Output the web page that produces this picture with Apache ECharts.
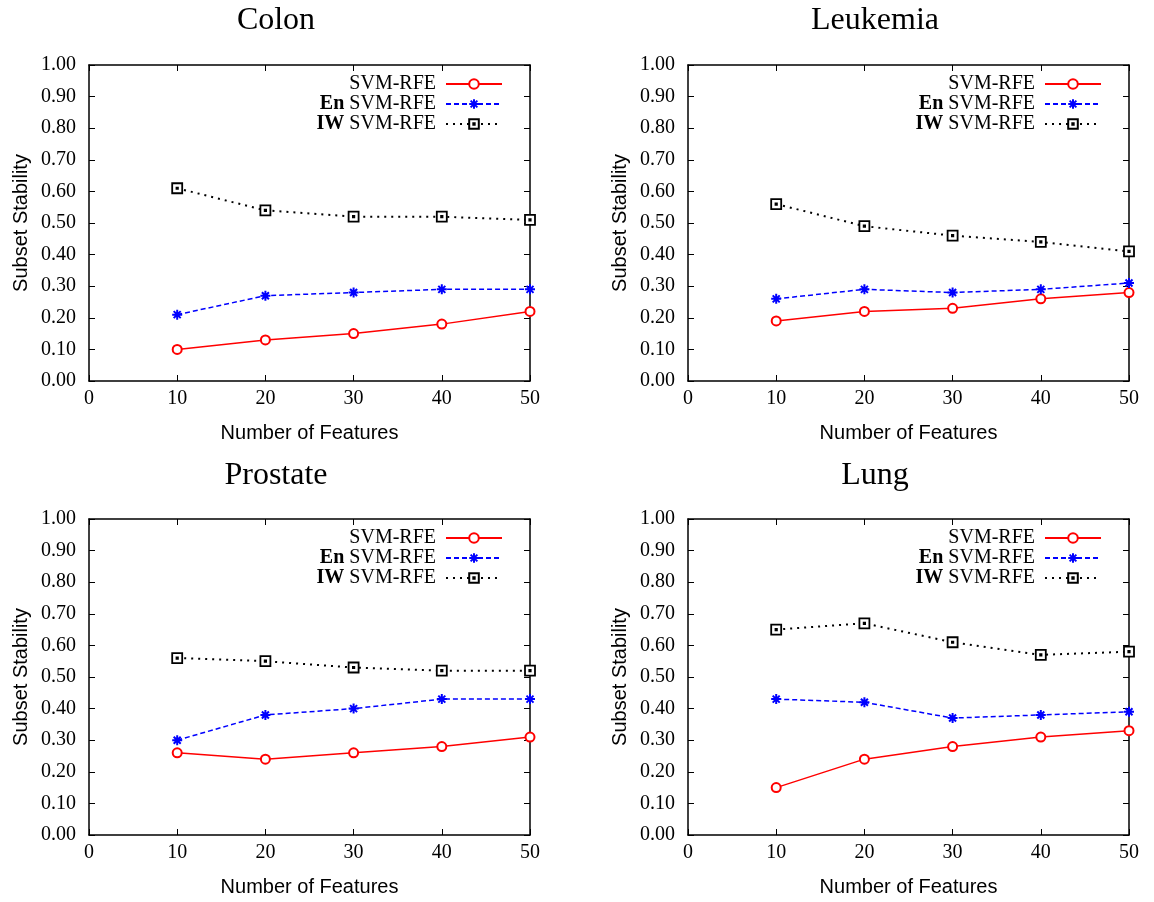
<!DOCTYPE html>
<html>
<head>
<meta charset="utf-8">
<script src="https://cdn.jsdelivr.net/npm/echarts@6/dist/echarts.min.js"></script>
<style>html,body{margin:0;padding:0;background:#fff}#c{width:1154px;height:902px}</style>
</head>
<body>
<div id="c"></div>
<script>
const features = [10, 20, 30, 40, 50];
const xTicks = [0, 10, 20, 30, 40, 50];
const seriesNames = ['SVM-RFE', 'En SVM-RFE', 'IW SVM-RFE'];
const panelTitles = ['Colon', 'Leukemia', 'Prostate', 'Lung'];

const colonSVM = [0.10, 0.13, 0.15, 0.18, 0.22];
const colonEn  = [0.21, 0.27, 0.28, 0.29, 0.29];
const colonIW  = [0.61, 0.54, 0.52, 0.52, 0.51];

const leukSVM = [0.19, 0.22, 0.23, 0.26, 0.28];
const leukEn  = [0.26, 0.29, 0.28, 0.29, 0.31];
const leukIW  = [0.56, 0.49, 0.46, 0.44, 0.41];

const prosSVM = [0.26, 0.24, 0.26, 0.28, 0.31];
const prosEn  = [0.30, 0.38, 0.40, 0.43, 0.43];
const prosIW  = [0.56, 0.55, 0.53, 0.52, 0.52];

const lungSVM = [0.15, 0.24, 0.28, 0.31, 0.33];
const lungEn  = [0.43, 0.42, 0.37, 0.38, 0.39];
const lungIW  = [0.65, 0.67, 0.61, 0.57, 0.58];

const panelData = [
  [colonSVM, colonEn, colonIW],
  [leukSVM, leukEn, leukIW],
  [prosSVM, prosEn, prosIW],
  [lungSVM, lungEn, lungIW]
];

const W = 1154;
const grids = [
  {left: 89, top: 65, width: 441, height: 316},
  {left: 688, top: 65, width: 441, height: 316},
  {left: 89, top: 519, width: 441, height: 316},
  {left: 688, top: 519, width: 441, height: 316}
];
const titlePos = [[276, 21], [875, 21], [276, 476], [875, 476]];

const serif = 'Liberation Serif, Times New Roman, serif';
const sans = 'Liberation Sans, Arial, sans-serif';

const styles = [
  {color: '#ff0000', lineType: 'solid', lineWidth: 1.5, symbol: 'emptyCircle', symbolSize: 9, itemStyle: {color: '#ff0000', borderColor: '#ff0000', borderWidth: 1.5}},
  {color: '#0000ff', lineType: [5, 3], lineWidth: 1.5, symbol: 'path://M5,0L5,10M0,5L10,5M1.5,1.5L8.5,8.5M1.5,8.5L8.5,1.5', symbolSize: 10, itemStyle: {color: '#0000ff', borderColor: '#0000ff', borderWidth: 2}},
  {color: '#000000', lineType: [2, 5], lineWidth: 2, symbol: 'path://M0,0L10,0L10,10L0,10ZM4.3,4.3L5.7,4.3L5.7,5.7L4.3,5.7Z', symbolSize: 10, itemStyle: {color: '#fff', borderColor: '#000', borderWidth: 1.8}}
];

const xAxes = [], yAxes = [], series = [], legends = [], graphics = [];
grids.forEach((g, i) => {
  const axLine = {show: true, onZero: false, lineStyle: {color: '#000', width: 1.5}};
  const tick = {show: true, inside: true, length: 6, lineStyle: {color: '#000', width: 1}};
  xAxes.push({
    gridIndex: i, type: 'value', min: 0, max: 50, interval: 10, position: 'bottom',
    axisLine: axLine, axisTick: tick, splitLine: {show: false},
    axisLabel: {color: '#000', fontFamily: serif, fontSize: 20, margin: 8,
      formatter: v => xTicks.includes(v) ? String(v) : ''},
    name: 'Number of Features', nameLocation: 'middle', nameGap: 42,
    nameTextStyle: {color: '#000', fontFamily: sans, fontSize: 20}
  });
  xAxes.push({
    gridIndex: i, type: 'value', min: 0, max: 50, interval: 10, position: 'top',
    axisLine: axLine, axisTick: tick, axisLabel: {show: false}, splitLine: {show: false}
  });
  yAxes.push({
    gridIndex: i, type: 'value', min: 0, max: 1, interval: 0.1, position: 'left',
    axisLine: axLine, axisTick: tick, splitLine: {show: false},
    axisLabel: {color: '#000', fontFamily: serif, fontSize: 20, margin: 13, formatter: v => v.toFixed(2)},
    name: 'Subset Stability', nameLocation: 'middle', nameGap: 58, nameRotate: 90,
    nameTextStyle: {color: '#000', fontFamily: sans, fontSize: 20}
  });
  yAxes.push({
    gridIndex: i, type: 'value', min: 0, max: 1, interval: 0.1, position: 'right',
    axisLine: axLine, axisTick: tick, axisLabel: {show: false}, splitLine: {show: false}
  });
  panelData[i].forEach((vals, k) => {
    const s = styles[k];
    series.push({
      name: seriesNames[k], type: 'line', xAxisIndex: 2 * i, yAxisIndex: 2 * i,
      data: features.map((f, j) => [f, vals[j]]),
      symbol: s.symbol, symbolSize: s.symbolSize, showAllSymbol: true,
      lineStyle: {color: s.color, type: s.lineType, width: s.lineWidth},
      itemStyle: s.itemStyle, animation: false, z: 3 + k, clip: false
    });
  });
  legends.push({
    orient: 'vertical', align: 'right', right: W - (g.left + g.width) + 27, top: g.top + 9,
    itemWidth: 56, itemHeight: 12, itemGap: 0, padding: 0,
    data: seriesNames, selectedMode: false,
    textStyle: {color: '#000', fontFamily: serif, fontSize: 20, lineHeight: 20,
      rich: {
        b: {fontFamily: serif, fontSize: 20, lineHeight: 20, fontWeight: 'bold', color: '#000'},
        n: {fontFamily: serif, fontSize: 20, lineHeight: 20, color: '#000'},
        g: {width: 5, lineHeight: 20}
      }},
    formatter: name => name.startsWith('En ') ? '{b|En}{n| SVM-RFE}{g|}' : name.startsWith('IW ') ? '{b|IW}{n| SVM-RFE}{g|}' : '{n|' + name + '}{g|}'
  });
  graphics.push({
    type: 'text', x: titlePos[i][0], y: titlePos[i][1],
    style: {text: panelTitles[i], fill: '#000', font: '32px ' + serif, textAlign: 'center', textVerticalAlign: 'middle'}
  });
});

const chart = echarts.init(document.getElementById('c'));
chart.setOption({
  animation: false,
  backgroundColor: '#fff',
  grid: grids,
  xAxis: xAxes,
  yAxis: yAxes,
  series: series,
  legend: legends,
  graphic: graphics
});
</script>
</body>
</html>
